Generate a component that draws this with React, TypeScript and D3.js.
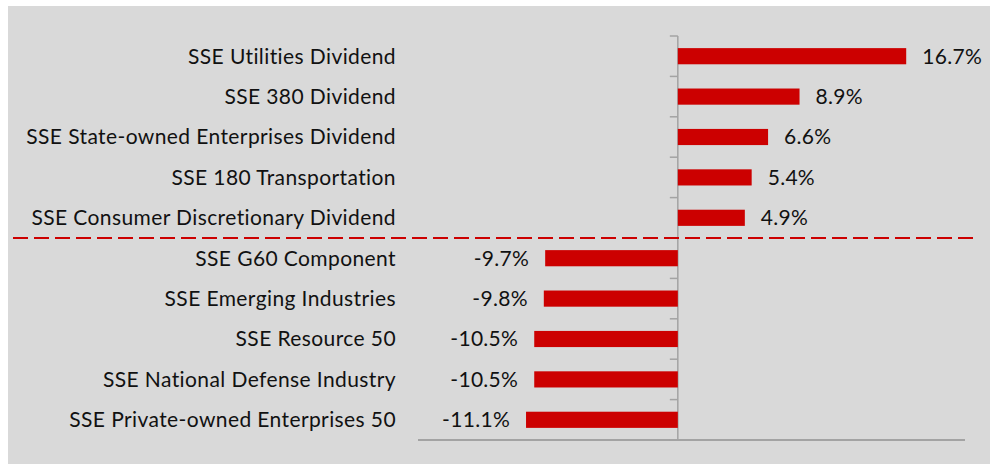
import React from "react";
import { scaleLinear, scaleBand } from "d3";

const categories = [
  "SSE Utilities Dividend",
  "SSE 380 Dividend",
  "SSE State-owned Enterprises Dividend",
  "SSE 180 Transportation",
  "SSE Consumer Discretionary Dividend",
  "SSE G60 Component",
  "SSE Emerging Industries",
  "SSE Resource 50",
  "SSE National Defense Industry",
  "SSE Private-owned Enterprises 50",
];
const values = [16.7, 8.9, 6.6, 5.4, 4.9, -9.7, -9.8, -10.5, -10.5, -11.1];
const valueLabels = ["16.7%", "8.9%", "6.6%", "5.4%", "4.9%", "-9.7%", "-9.8%", "-10.5%", "-10.5%", "-11.1%"];
// the red dashed line sits after this many rows
const splitAfter = 5;

const W = 990;
const H = 464;
const RED = "#cc0000";
const AXIS = "#a3a3a3";
const FONT = "Lato, 'Open Sans', sans-serif";

export default function App() {
  const x = scaleLinear().domain([-19, 21]).range([418, 965]);
  const y = scaleBand<string>().domain(categories).range([36, 440]).padding(0);
  const bh = y.bandwidth() * 0.4;
  const x0 = x(0);
  const bounds = categories.map((c) => y(c)!).concat([y.range()[1]]);
  const splitY = y(categories[splitAfter])!;

  return (
    <svg width={W} height={H} style={{ position: "absolute", left: 0, top: 0 }}>
      <rect x={0} y={0} width={W} height={H} fill="#fff" />
      <rect x={8} y={6} width={W - 8} height={H - 6} fill="#d9d9d9" />

      {/* bottom axis */}
      <line x1={x.range()[0]} x2={x.range()[1]} y1={440} y2={440} stroke={AXIS} strokeWidth={2} />

      {/* category axis at zero */}
      <line x1={x0} x2={x0} y1={bounds[0]} y2={440} stroke={AXIS} strokeWidth={1.5} />
      {bounds.map((b, i) => (
        <line key={i} x1={x0 - 8} x2={x0} y1={b} y2={b} stroke={AXIS} strokeWidth={1.5} />
      ))}

      {categories.map((c, i) => {
        const v = values[i];
        const cy = y(c)! + y.bandwidth() / 2;
        const xs = Math.min(x(v), x0);
        const w = Math.abs(x(v) - x0);
        return (
          <g key={c}>
            <rect x={xs} y={cy - bh / 2} width={w} height={bh} fill={RED} />
            <text
              x={396}
              y={cy}
              dy="0.35em"
              textAnchor="end"
              fontFamily={FONT}
              fontSize={21}
              letterSpacing={0.4}
              fill="#111"
            >
              {c}
            </text>
            <text
              x={v >= 0 ? x(v) + 16 : x(v) - 16}
              y={cy}
              dy="0.35em"
              textAnchor={v >= 0 ? "start" : "end"}
              fontFamily={FONT}
              fontSize={21}
              letterSpacing={0.3}
              fill="#111"
            >
              {valueLabels[i]}
            </text>
          </g>
        );
      })}

      <line
        x1={13}
        x2={979}
        y1={splitY}
        y2={splitY}
        stroke={RED}
        strokeWidth={2}
        strokeDasharray="15 6"
      />
    </svg>
  );
}
